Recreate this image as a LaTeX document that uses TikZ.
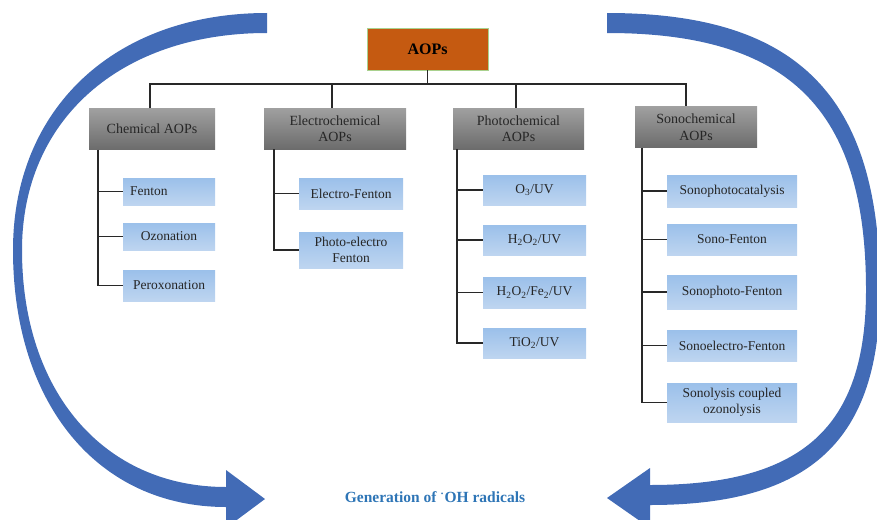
\documentclass[tikz,border=0pt]{standalone}
\usepackage{fontspec}
\setmainfont{Liberation Serif}

\definecolor{aoporange}{RGB}{197,90,17}
\definecolor{aopgreen}{RGB}{169,209,142}
\definecolor{catlight}{RGB}{160,160,160}
\definecolor{catdark}{RGB}{108,108,108}
\definecolor{leaftop}{RGB}{155,192,234}
\definecolor{leafbottom}{RGB}{190,213,240}
\definecolor{arrowblue}{RGB}{66,107,182}
\definecolor{textblue}{RGB}{46,117,182}
\definecolor{linegray}{RGB}{40,40,40}

\begin{document}
\begin{tikzpicture}[x=1pt,y=-1pt,
  topbox/.style={draw=aopgreen,line width=0.8pt,fill=aoporange,minimum width=121pt,
    minimum height=42pt,font=\fontsize{16}{18}\selectfont\bfseries},
  catbox/.style={top color=catlight,bottom color=catdark,minimum height=41pt,align=center,
    text=black!85,font=\fontsize{14}{16.5}\selectfont},
  leaf/.style={top color=leaftop,bottom color=leafbottom,align=center,
    text=black!85,font=\fontsize{13.5}{16}\selectfont},
  link/.style={draw=linegray,line width=1.3pt},
  gentext/.style={text=textblue,font=\fontsize{15.5}{17}\selectfont\bfseries}]
\useasboundingbox (0,0) rectangle (877,519);
\clip (0,0) rectangle (877,519);

% curved arrows
\fill[arrowblue] (267,13) .. controls (115,13) and (13,108) .. (13,250)
  .. controls (13,404) and (98,507) .. (226,507) -- (226,528) -- (265,499)
  -- (226,470) -- (226,487) .. controls (104,487) and (22,392) .. (22,250)
  .. controls (22,120) and (120,33) .. (267,33) -- cycle;
\fill[arrowblue] (607,13) .. controls (798,13) and (880,96) .. (880,290)
  .. controls (880,440) and (811,505) .. (650,505) -- (650,528) -- (607,498)
  -- (650,468) -- (650,485) .. controls (803,485) and (866,427) .. (866,290)
  .. controls (866,110) and (790,33) .. (607,33) -- cycle;

\node[topbox] (aops) at (427.5,49) {AOPs};

\node[catbox,minimum width=126pt] (chem) at (152,129) {Chemical AOPs};
\node[catbox,minimum width=142pt] (elec) at (335,128.5) {Electrochemical\\AOPs};
\node[catbox,minimum width=131pt] (photo) at (518.5,128.5) {Photochemical\\AOPs};
\node[catbox,minimum width=122pt] (sono) at (696,127) {Sonochemical\\AOPs};

\node[leaf,minimum width=92pt,minimum height=27pt,text width=78pt,align=left] (fenton) at (169,191.5) {Fenton};
\node[leaf,minimum width=92pt,minimum height=27pt] (ozon) at (169,236.5) {Ozonation};
\node[leaf,minimum width=92pt,minimum height=31pt] (perox) at (169,285.5) {Peroxonation};

\node[leaf,minimum width=104pt,minimum height=31pt] (efenton) at (351,193.5) {Electro-Fenton};
\node[leaf,minimum width=104pt,minimum height=36pt] (pefenton) at (351,250) {Photo-electro\\Fenton};

\node[leaf,minimum width=103pt,minimum height=30pt] (otuv) at (534.5,190) {O\textsubscript{3}/UV};
\node[leaf,minimum width=103pt,minimum height=30pt] (hpuv) at (534.5,240) {H\textsubscript{2}O\textsubscript{2}/UV};
\node[leaf,minimum width=103pt,minimum height=31pt] (hfuv) at (534.5,292.5) {H\textsubscript{2}O\textsubscript{2}/Fe\textsubscript{2}/UV};
\node[leaf,minimum width=103pt,minimum height=30pt] (tiuv) at (534.5,343) {TiO\textsubscript{2}/UV};

\node[leaf,minimum width=130pt,minimum height=32pt] (spc) at (732,191) {Sonophotocatalysis};
\node[leaf,minimum width=130pt,minimum height=31pt] (sf) at (732,239.5) {Sono-Fenton};
\node[leaf,minimum width=130pt,minimum height=34pt] (spf) at (732,292) {Sonophoto-Fenton};
\node[leaf,minimum width=130pt,minimum height=31pt] (sef) at (732,345.5) {Sonoelectro-Fenton};
\node[leaf,minimum width=130pt,minimum height=39pt] (sco) at (732,402.5) {Sonolysis coupled\\ozonolysis};

\node[gentext] (gen) at (435,497) {Generation of \textsuperscript{·}OH radicals};

% tree lines
\coordinate (bus) at (427.5,84);
\draw[link] (aops.south) -- (bus);
\draw[link] ([xshift=-2pt]chem.north) |- (bus) -| ([xshift=-10pt]sono.north);
\draw[link] ([xshift=-3pt]elec.north) -- ([xshift=-3pt]elec.north |- bus);
\draw[link] ([xshift=-2.5pt]photo.north) -- ([xshift=-2.5pt]photo.north |- bus);

\coordinate (tchem) at ([xshift=-54pt]chem.south);
\coordinate (telec) at ([xshift=-61pt]elec.south);
\coordinate (tphoto) at ([xshift=-61.5pt]photo.south);
\coordinate (tsono) at ([xshift=-54pt]sono.south);
\draw[link] (tchem) |- (perox.west);
\draw[link] (telec) |- (pefenton.west);
\draw[link] (tphoto) |- (tiuv.west);
\draw[link] (tsono) |- (sco.west);
\foreach \p/\k in {chem/fenton,chem/ozon,elec/efenton,photo/otuv,photo/hpuv,photo/hfuv,
  sono/spc,sono/sf,sono/spf,sono/sef}
  \draw[link] (\k.west) -- (\k.west -| t\p);
\end{tikzpicture}
\end{document}
